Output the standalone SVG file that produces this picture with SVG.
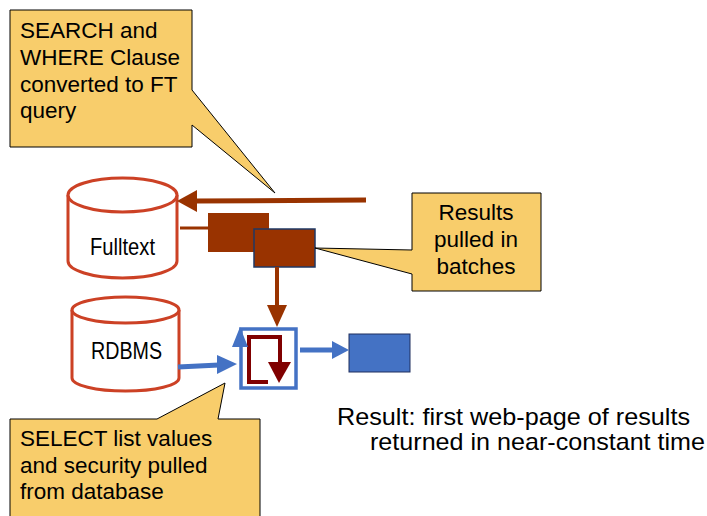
<svg xmlns="http://www.w3.org/2000/svg" width="707" height="516" viewBox="0 0 707 516">
<style>
.callout{fill:#F8CD6B;stroke:#000;stroke-width:1}
.ct{font-family:"Liberation Sans",Arial,sans-serif;font-size:22.5px;fill:#000}
.cyl{fill:#fff;stroke:#CC4125;stroke-width:3}
.lbl{font-family:"Liberation Sans",Arial,sans-serif;font-size:24px;fill:#000}
.big{font-family:"Liberation Sans",Arial,sans-serif;font-size:24px;fill:#000}
.brown{stroke:#993300;fill:none}
.blue{stroke:#4472C4;fill:none}
</style>
<rect width="707" height="516" fill="#fff"/>
<g id="fulltext">
<path class="cyl" d="M68 195 L68 261 A54.5 17 0 0 0 177 261 L177 195"/>
<ellipse class="cyl" cx="122.5" cy="195" rx="54.5" ry="17"/>
<text class="lbl" x="90" y="255" textLength="65" lengthAdjust="spacingAndGlyphs">Fulltext</text>
</g>
<g id="rdbms">
<path class="cyl" d="M72 310 L72 378 A53.5 13 0 0 0 179 378 L179 310"/>
<ellipse class="cyl" cx="125.5" cy="310" rx="53.5" ry="13"/>
<text class="lbl" x="91" y="359" textLength="71" lengthAdjust="spacingAndGlyphs">RDBMS</text>
</g>
<g id="batch1"><rect x="208" y="213" width="61" height="39" fill="#993300"/></g>
<g id="batch2"><rect x="254" y="229" width="61" height="38" fill="#993300" stroke="#1F3864" stroke-width="1.5"/></g>
<g id="merge">
<rect x="241" y="329" width="55" height="59" fill="none" stroke="#4472C4" stroke-width="3.5"/>
<path d="M268 382 L249 382 L249 337 L280 337 L280 363" fill="none" stroke="#800000" stroke-width="4"/>
<polygon points="268,362 291,362 279,383" fill="#800000"/>
</g>
<g id="result"><rect x="349" y="334" width="61" height="38" fill="#4472C4" stroke="#1F2F5F" stroke-width="1"/></g>
<g id="connectors">
<line class="brown" x1="366" y1="200" x2="196" y2="201" stroke-width="5"/>
<polygon points="177,201 197,190 197,212" fill="#993300"/>
<line class="brown" x1="180" y1="228" x2="208" y2="228" stroke-width="3"/>
<line class="brown" x1="277" y1="267" x2="277" y2="306" stroke-width="4"/>
<polygon points="267,305 287,305 277,327" fill="#993300"/>
<line class="blue" x1="178" y1="367" x2="219" y2="365" stroke-width="5"/>
<polygon points="237,364 217,355 217,374" fill="#4472C4"/>
<polygon points="240,327 232,347 248,347" fill="#4472C4"/>
<line class="blue" x1="300" y1="350" x2="334" y2="350" stroke-width="5"/>
<polygon points="349,350 332,341 332,359" fill="#4472C4"/>
</g>
<g id="callout-search">
<polygon class="callout" points="10,10 192,10 192,90 275,193 192,125 192,147 10,147"/>
<text class="ct" x="20" y="38">SEARCH and</text>
<text class="ct" x="20" y="65">WHERE Clause</text>
<text class="ct" x="20" y="92">converted to FT</text>
<text class="ct" x="20" y="118">query</text>
</g>
<g id="callout-batches">
<polygon class="callout" points="412,193 541,193 541,291 412,291 412,274 315,248 412,250"/>
<text class="ct" x="476" y="220" text-anchor="middle">Results</text>
<text class="ct" x="476" y="247" text-anchor="middle">pulled in</text>
<text class="ct" x="476" y="274" text-anchor="middle">batches</text>
</g>
<g id="callout-select">
<polygon class="callout" points="10,419 157,419 225,383 218,419 260,419 260,520 10,520"/>
<text class="ct" x="20" y="446">SELECT list values</text>
<text class="ct" x="20" y="473">and security pulled</text>
<text class="ct" x="20" y="499">from database</text>
</g>
<g id="result-text">
<text class="big" x="337" y="425" textLength="353" lengthAdjust="spacingAndGlyphs">Result: first web-page of results</text>
<text class="big" x="370" y="450" textLength="335" lengthAdjust="spacingAndGlyphs">returned in near-constant time</text>
</g>
</svg>
